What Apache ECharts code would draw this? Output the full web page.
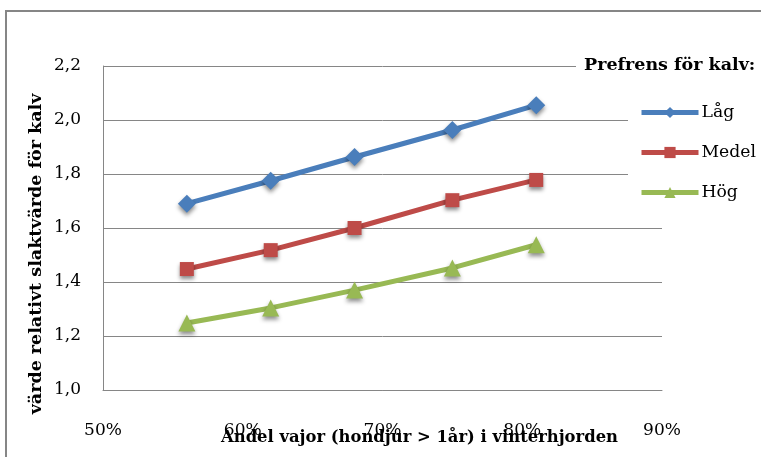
<!DOCTYPE html>
<html>
<head>
<meta charset="utf-8">
<script src="https://cdn.jsdelivr.net/npm/echarts@6/dist/echarts.min.js"></script>
<style>html,body{margin:0;padding:0;background:#fff;overflow:hidden;}#c{width:761px;height:457px;}</style>
</head>
<body>
<div id="c"></div>
<script>
const xValues = [56, 62, 68, 75, 81];
const seriesNames = ['Låg', 'Medel', 'Hög'];
const lagValues = [1.69, 1.775, 1.863, 1.963, 2.055];
const medelValues = [1.448, 1.518, 1.600, 1.703, 1.778];
const hogValues = [1.248, 1.304, 1.370, 1.452, 1.538];
const xTicks = [50, 60, 70, 80, 90];
const yTicks = [1.0, 1.2, 1.4, 1.6, 1.8, 2.0, 2.2];
const legendTitle = 'Prefrens för kalv:';
const xName = 'Andel vajor (hondjur > 1år) i vinterhjorden';
const yName = 'värde relativt slaktvärde för kalv';

const FONT = 'DejaVu Serif';
const gridColor = '#868686';
function pairs(vals) { return xValues.map((x, i) => [x, vals[i]]); }
const colors = ['#4A7EBB', '#BE4B48', '#98B954'];
const symbols = ['diamond', 'rect', 'triangle'];
const sizes = [18, 14, 17];
const allVals = [lagValues, medelValues, hogValues];

const chart = echarts.init(document.getElementById('c'), null, {renderer: 'canvas'});
chart.setOption({
  animation: false,
  backgroundColor: '#fff',
  title: {
    text: legendTitle,
    left: 576, top: 53,
    backgroundColor: '#fff',
    padding: [3, 4, 3, 8],
    textStyle: {fontFamily: FONT, fontWeight: 'bold', fontSize: 17.5, color: '#000'}
  },
  legend: {
    orient: 'vertical',
    left: 628, top: 90,
    backgroundColor: '#fff',
    padding: [14, 10, 14, 11],
    itemWidth: 57, itemHeight: 14, itemGap: 23,
    lineStyle: {width: 5},
    data: seriesNames,
    textStyle: {fontFamily: FONT, fontSize: 17.2, color: '#000', padding: [0, 0, 0, -2]}
  },
  grid: {left: 103, right: 99, top: 66, bottom: 67, containLabel: false, outerBoundsMode: 'none'},
  xAxis: {
    type: 'value', min: xTicks[0], max: xTicks[xTicks.length - 1], interval: 10,
    name: xName, nameLocation: 'middle', nameGap: 40, nameMoveOverlap: false,
    nameTextStyle: {fontFamily: FONT, fontWeight: 'bold', fontSize: 16.4, color: '#000', padding: [0, 0, 0, 74]},
    axisLine: {show: true, lineStyle: {color: gridColor, width: 1}},
    axisTick: {show: false},
    splitLine: {show: false},
    axisLabel: {margin: 32, fontFamily: FONT, fontSize: 17, color: '#000', formatter: v => v + '%'}
  },
  yAxis: {
    type: 'value', min: yTicks[0], max: yTicks[yTicks.length - 1], interval: 0.2,
    name: yName, nameLocation: 'middle', nameGap: 58, nameMoveOverlap: false,
    nameTextStyle: {fontFamily: FONT, fontWeight: 'bold', fontSize: 17.5, color: '#000', padding: [0, 52, 0, 0]},
    axisLine: {show: true, lineStyle: {color: gridColor, width: 1}},
    axisTick: {show: false},
    splitLine: {show: true, lineStyle: {color: gridColor, width: 1}},
    axisLabel: {margin: 22, fontFamily: FONT, fontSize: 17, color: '#000', formatter: v => v.toFixed(1).replace('.', ',')}
  },
  graphic: [{
    type: 'rect', silent: true, z: 100,
    shape: {x: 6, y: 11, width: 800, height: 500},
    style: {fill: 'none', stroke: gridColor, lineWidth: 2}
  }],
  series: seriesNames.map((n, i) => ({
    name: n, type: 'line',
    data: pairs(allVals[i]),
    symbol: symbols[i], symbolSize: sizes[i],
    showAllSymbol: true,
    lineStyle: {color: colors[i], width: 5},
    itemStyle: {color: colors[i], shadowBlur: 4, shadowColor: 'rgba(0,0,0,0.45)', shadowOffsetY: 3},
    z: 3
  }))
});
</script>
</body>
</html>
